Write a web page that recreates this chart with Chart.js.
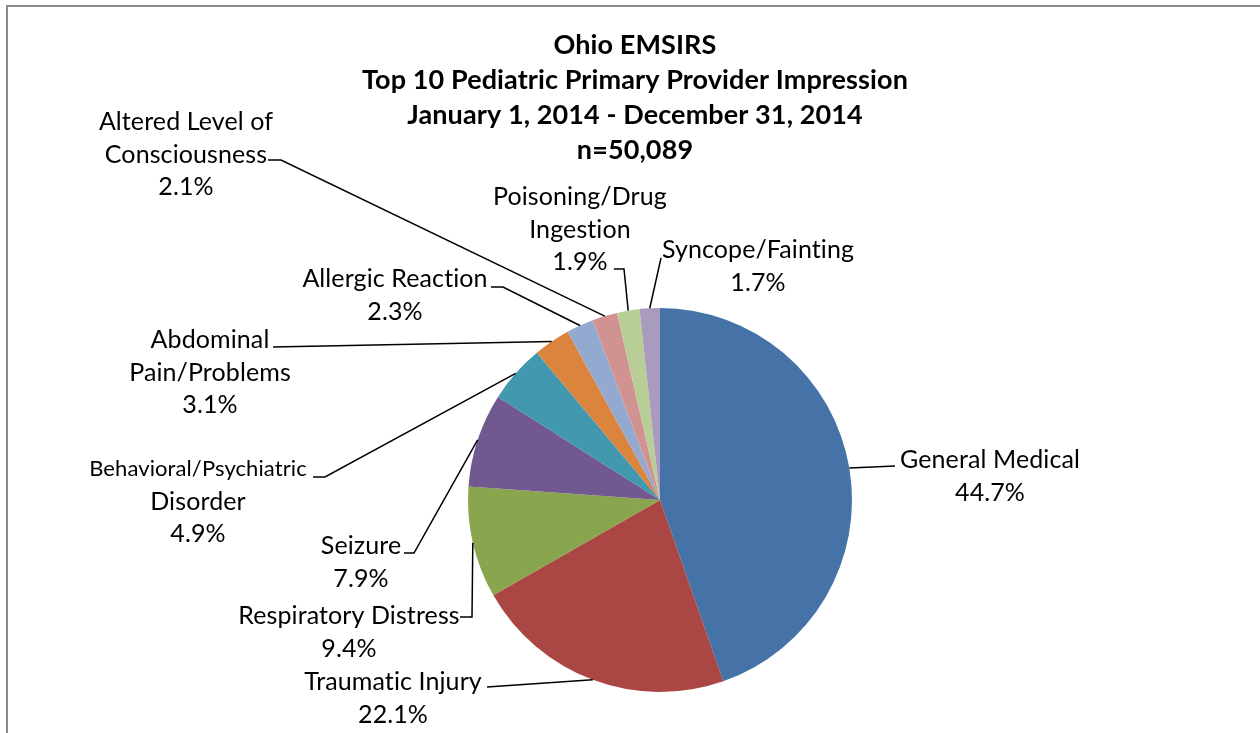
<!DOCTYPE html>
<html><head><meta charset="utf-8">
<script src="https://cdn.jsdelivr.net/npm/chart.js@4.4.1/dist/chart.umd.min.js"></script>
<style>html,body{margin:0;padding:0;background:#fff;overflow:hidden}#wrap{width:1260px;height:733px;position:relative}</style>
</head><body><div id="wrap"><canvas id="c" width="1260" height="733"></canvas></div>
<script>
const titleLines = ['Ohio EMSIRS', 'Top 10 Pediatric Primary Provider Impression', 'January 1, 2014 - December 31, 2014', 'n=50,089'];
const categories = ['General Medical', 'Traumatic Injury', 'Respiratory Distress', 'Seizure', 'Behavioral/Psychiatric Disorder', 'Abdominal Pain/Problems', 'Allergic Reaction', 'Altered Level of Consciousness', 'Poisoning/Drug Ingestion', 'Syncope/Fainting'];
const percentages = [44.7, 22.1, 9.4, 7.9, 4.9, 3.1, 2.3, 2.1, 1.9, 1.7];
const labelLines = [['General Medical'], ['Traumatic Injury'], ['Respiratory Distress'], ['Seizure'], ['Behavioral/Psychiatric', 'Disorder'], ['Abdominal', 'Pain/Problems'], ['Allergic Reaction'], ['Altered Level of', 'Consciousness'], ['Poisoning/Drug', 'Ingestion'], ['Syncope/Fainting']];
const colors = ['#4572A7', '#AA4643', '#89A54E', '#71588F', '#4198AF', '#DB843D', '#93A9CF', '#D19392', '#B9CD96', '#A99BBD'];

// label placement (text centre x, first-line centre y, leader elbow points)
const labelLayout = [
  {x: 990, y: 460, leader: [[895, 466]]},
  {x: 393, y: 682, leader: [[487, 687]]},
  {x: 349, y: 616, leader: [[460, 617], [472, 617]]},
  {x: 361, y: 546, leader: [[404, 553], [414, 553]]},
  {x: 198, y: 469, leader: [[313, 477], [325, 477]], firstSize: 22},
  {x: 210, y: 340, leader: [[273, 347]]},
  {x: 395, y: 279, leader: [[491, 287], [503, 287]]},
  {x: 186, y: 122, leader: [[268, 160], [281, 160]]},
  {x: 580, y: 197, leader: [[614, 269], [624, 269]]},
  {x: 758, y: 250, leader: [[661, 258]]}
];
const FONT = 'Lato, "Liberation Sans", sans-serif';
const LABEL_SIZE = 25, LINE_H = 32.5;

const decor = {
  id: 'decor',
  afterDatasetsDraw(chart) {
    const ctx = chart.ctx;
    const meta = chart.getDatasetMeta(0);
    ctx.save();
    if ('letterSpacing' in ctx) ctx.letterSpacing = '0.1px';
    // frame
    ctx.fillStyle = '#8a8a8a';
    ctx.fillRect(6, 5, 2, 740);
    ctx.fillRect(6, 5, 1260, 2);
    // title
    ctx.fillStyle = '#000';
    ctx.textAlign = 'center';
    ctx.textBaseline = 'middle';
    ctx.font = 'bold 27px ' + FONT;
    titleLines.forEach((t, i) => ctx.fillText(t, 635, 45 + i * 35));
    // leader lines + labels
    meta.data.forEach((arc, i) => {
      const p = arc.getProps(['x', 'y', 'startAngle', 'endAngle', 'outerRadius'], true);
      const mid = (p.startAngle + p.endAngle) / 2;
      const ex = p.x + Math.cos(mid) * p.outerRadius;
      const ey = p.y + Math.sin(mid) * p.outerRadius;
      const L = labelLayout[i];
      ctx.strokeStyle = '#000';
      ctx.lineWidth = 1.5;
      ctx.beginPath();
      ctx.moveTo(L.leader[0][0], L.leader[0][1]);
      for (let k = 1; k < L.leader.length; k++) ctx.lineTo(L.leader[k][0], L.leader[k][1]);
      ctx.lineTo(ex, ey);
      ctx.stroke();
      const lines = labelLines[i].concat([percentages[i].toFixed(1) + '%']);
      lines.forEach((t, k) => {
        const size = (k === 0 && L.firstSize) ? L.firstSize : LABEL_SIZE;
        ctx.font = size + 'px ' + FONT;
        ctx.fillText(t, L.x, L.y + k * LINE_H);
      });
    });
    ctx.restore();
  }
};

new Chart(document.getElementById('c'), {
  type: 'pie',
  data: {
    labels: categories,
    datasets: [{data: percentages, backgroundColor: colors, borderWidth: 0}]
  },
  options: {
    responsive: false,
    animation: false,
    layout: {padding: {left: 468, right: 408, top: 308, bottom: 41}},
    plugins: {legend: {display: false}, tooltip: {enabled: false}, title: {display: false}}
  },
  plugins: [decor]
});
</script>
</body></html>
